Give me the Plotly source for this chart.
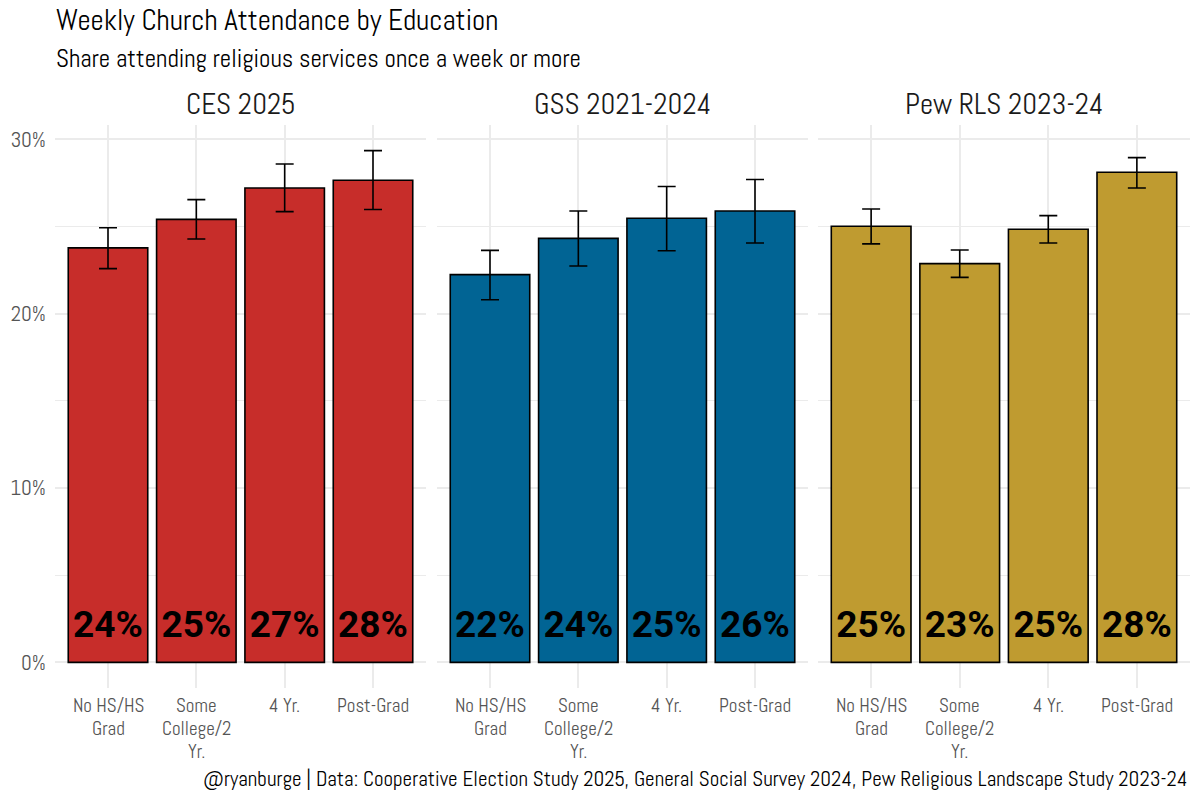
import plotly.graph_objects as go

# ---------------- data ----------------
panels = ["CES 2025", "GSS 2021-2024", "Pew RLS 2023-24"]
categories = ["No HS/HS Grad", "Some College/2 Yr.", "4 Yr.", "Post-Grad"]
tick_labels = ["No HS/HS<br>Grad", "Some<br>College/2<br>Yr.", "4 Yr.", "Post-Grad"]

ces_mean = [23.77, 25.41, 27.21, 27.65]
ces_lower = [22.58, 24.28, 25.85, 25.97]
ces_upper = [24.93, 26.54, 28.58, 29.35]

gss_mean = [22.24, 24.32, 25.47, 25.89]
gss_lower = [20.80, 22.73, 23.61, 24.05]
gss_upper = [23.63, 25.89, 27.29, 27.69]

pew_mean = [25.01, 22.87, 24.84, 28.11]
pew_lower = [24.00, 22.08, 24.05, 27.21]
pew_upper = [26.00, 23.65, 25.62, 28.95]

y_tick_vals = [0, 10, 20, 30]
y_tick_text = ["0%", "10%", "20%", "30%"]

# ---------------- style ----------------
colors = ["#C72D2A", "#016494", "#BF9B30"]
FONT = "Abel, 'Liberation Sans Narrow', 'Roboto Condensed', Roboto, sans-serif"
LABEL_FONT = "Roboto, 'DejaVu Sans', sans-serif"
LABEL_Y = 2.0
GRID = "#EBEBEB"
TICK_COLOR = "#555555"

x_domains = [[55 / 1200, 426 / 1200], [437 / 1200, 808 / 1200], [818 / 1200, 1190 / 1200]]
y_domain = [1 - 688 / 800, 1 - 125 / 800]
y_range = [-1.47, 30.82]

series = [
    (ces_mean, ces_lower, ces_upper),
    (gss_mean, gss_lower, gss_upper),
    (pew_mean, pew_lower, pew_upper),
]

fig = go.Figure()
for i, (mean, lo, hi) in enumerate(series):
    xa = "x" if i == 0 else f"x{i+1}"
    ya = "y" if i == 0 else f"y{i+1}"
    fig.add_trace(go.Bar(
        x=categories, y=mean, xaxis=xa, yaxis=ya,
        width=0.9,
        marker=dict(color=colors[i], line=dict(color="black", width=1.6)),
        error_y=dict(type="data", symmetric=False,
                     array=[h - m for h, m in zip(hi, mean)],
                     arrayminus=[m - l for m, l in zip(mean, lo)],
                     color="black", thickness=1.6, width=9),
        showlegend=False, hoverinfo="skip",
    ))
    fig.add_trace(go.Scatter(
        x=categories, y=[LABEL_Y] * len(categories), xaxis=xa, yaxis=ya,
        mode="text",
        text=[f"{round(m):d}%" for m in mean],
        textposition="middle center",
        textfont=dict(family=LABEL_FONT, size=37, color="black", weight=700),
        showlegend=False, hoverinfo="skip",
    ))

layout = dict(
    width=1200, height=800,
    margin=dict(l=0, r=0, t=0, b=0),
    paper_bgcolor="white", plot_bgcolor="white",
    font=dict(family=FONT, color="#4D4D4D"),
)
for i in range(3):
    sx = "" if i == 0 else str(i + 1)
    layout[f"xaxis{sx}"] = dict(
        domain=x_domains[i], anchor=f"y{sx}",
        type="category", range=[-0.6, 3.6],
        tickvals=categories, showticklabels=False,
        showgrid=True, gridcolor=GRID, gridwidth=1.5,
        zeroline=False, showline=False, ticks="",
    )
    layout[f"yaxis{sx}"] = dict(
        domain=y_domain, anchor=f"x{sx}",
        range=y_range,
        tickvals=y_tick_vals, ticktext=y_tick_text,
        showticklabels=(i == 0),
        showgrid=True, gridcolor=GRID, gridwidth=1.5,
        minor=dict(dtick=5, tick0=0, showgrid=True, gridcolor=GRID, gridwidth=1),
        zeroline=False, showline=False, ticks="",
        tickfont=dict(family=FONT, size=21, color=TICK_COLOR),
        ticklabelstandoff=8,
    )
fig.update_layout(**layout)

annotations = [
    dict(text="Weekly Church Attendance by Education", x=54 / 1200, y=1 - 20 / 800,
         xanchor="left", yanchor="middle", font=dict(family=FONT, size=29, color="black")),
    dict(text="Share attending religious services once a week or more", x=54 / 1200, y=1 - 58 / 800,
         xanchor="left", yanchor="middle", font=dict(family=FONT, size=25, color="black")),
    dict(text="@ryanburge | Data: Cooperative Election Study 2025, General Social Survey 2024, Pew Religious Landscape Study 2023-24",
         x=1190 / 1200, y=1 - 778 / 800, xanchor="right", yanchor="middle",
         font=dict(family=FONT, size=21, color="black")),
]
for i, p in enumerate(panels):
    annotations.append(dict(text=p, x=sum(x_domains[i]) / 2, y=1 - 104 / 800,
                            xanchor="center", yanchor="middle",
                            font=dict(family=FONT, size=29, color="#1A1A1A")))
for a in annotations:
    a.update(xref="paper", yref="paper", showarrow=False)

# x tick labels, one annotation per line for tight line spacing
LINE_STEP = 23
for i in range(3):
    sx = "" if i == 0 else str(i + 1)
    for cat, lab in zip(categories, tick_labels):
        for k, line in enumerate(lab.split("<br>")):
            annotations.append(dict(
                text=line, x=cat, xref=f"x{sx}", y=y_domain[0], yref="paper",
                xanchor="center", yanchor="middle", yshift=-(17 + LINE_STEP * k),
                showarrow=False, font=dict(family=FONT, size=19, color=TICK_COLOR),
            ))
fig.update_layout(annotations=annotations)

fig.write_html("out.html")
